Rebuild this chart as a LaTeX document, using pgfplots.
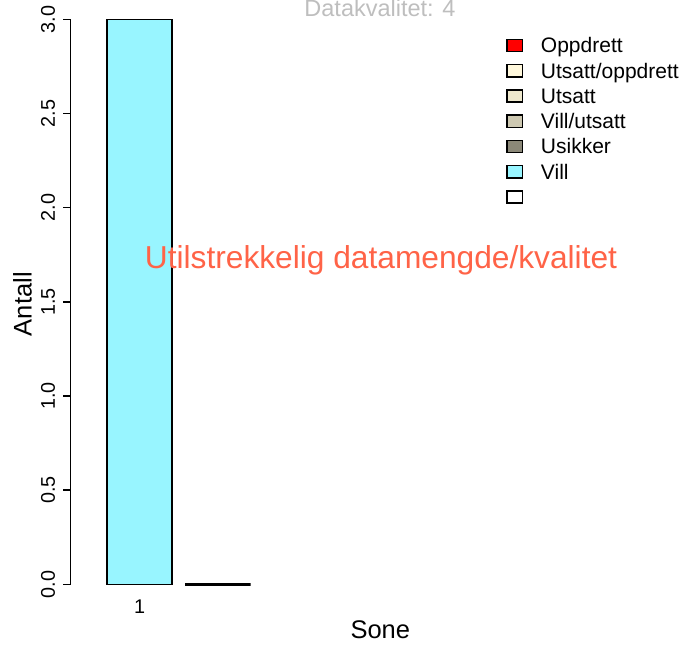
\documentclass[border=0pt]{standalone}
\usepackage{pgfplots}
\pgfplotsset{compat=1.18}
\usepackage{fontspec}
\setmainfont{Liberation Sans}
\definecolor{vill}{HTML}{98F5FF}
\definecolor{cs1}{HTML}{FFF8DC}
\definecolor{cs2}{HTML}{EEE8CD}
\definecolor{cs3}{HTML}{CDC8B1}
\definecolor{cs4}{HTML}{8B8878}
\definecolor{tomato}{HTML}{FF6347}
\definecolor{titlegray}{HTML}{BEBEBE}
\pgfplotsset{sq/.style={legend image code/.code={\draw[##1, draw=black, line width=1.5pt] (0pt,-6.1pt) rectangle (15.7pt,6.1pt); \path (34pt,0pt);}}}
\begin{document}
\begin{tikzpicture}
\useasboundingbox (0,0) rectangle (684pt,647pt);
\begin{axis}[
  at={(70.5pt,62.7pt)}, anchor=south west,
  scale only axis, width=619.5pt, height=565pt,
  xmin=-0.3567, xmax=9.130, ymin=0, ymax=3,
  axis y line*=left, axis x line*=bottom,
  x axis line style={draw=none},
  xtick={0.7}, xticklabels={1}, xtick style={draw=none},
  ytick={0,0.5,1,1.5,2,2.5,3},
  ytick align=outside, major tick length=7.5pt,
  ytick style={black, line width=1.5pt},
  y axis line style={black, line width=1.5pt},
  /pgf/number format/assume math mode=true,
  yticklabel style={/pgf/number format/fixed, /pgf/number format/fixed zerofill, /pgf/number format/precision=1},
  yticklabel style={rotate=90, anchor=base, inner sep=0pt, font=\fontsize{19.8}{20}\selectfont},
  yticklabel shift=8pt,
  xticklabel style={anchor=base, inner sep=0pt, font=\fontsize{19.8}{20}\selectfont},
  xticklabel shift=22pt,
  xlabel={Sone}, ylabel={Antall},
  xlabel style={at={(axis description cs:0.5001,-0.09558)}, anchor=base, inner sep=0pt, font=\fontsize{25.5}{26}\selectfont},
  ylabel style={at={(axis description cs:-0.06263,0.4958)}, anchor=base, inner sep=0pt, font=\fontsize{25.5}{26}\selectfont},
  ybar, bar width=1, bar shift=0pt,
  clip=false,
  legend style={at={(axis description cs:0.7030,0.9760)}, anchor=north west, draw=none, fill=none,
    inner sep=0pt, outer sep=0pt, row sep=0pt,
    font=\fontsize{21}{21}\selectfont,
    nodes={inner sep=0pt, text height=20.1pt, text depth=5.15pt}},
  legend cell align=left,
]
\addplot[forget plot, fill=vill, draw=black, line width=1.5pt] coordinates {(0.7,3)};
\addplot[forget plot, fill=white, draw=black, line width=2.4pt] coordinates {(1.9,0)};
\addlegendimage{sq, fill=red}\addlegendentry{Oppdrett}
\addlegendimage{sq, fill=cs1}\addlegendentry{Utsatt/oppdrett}
\addlegendimage{sq, fill=cs2}\addlegendentry{Utsatt}
\addlegendimage{sq, fill=cs3}\addlegendentry{Vill/utsatt}
\addlegendimage{sq, fill=cs4}\addlegendentry{Usikker}
\addlegendimage{sq, fill=vill}\addlegendentry{Vill}
\addlegendimage{sq, fill=white}\addlegendentry{}
\end{axis}
\node[anchor=base, text=tomato, inner sep=0pt, font=\fontsize{31.7}{32}\selectfont] at (381pt,378pt) {Utilstrekkelig datamengde/kvalitet};
\node[anchor=base, text=titlegray, inner sep=0pt, font=\fontsize{23.5}{24}\selectfont] at (380pt,630pt) {Datakvalitet: 4};
\end{tikzpicture}
\end{document}
